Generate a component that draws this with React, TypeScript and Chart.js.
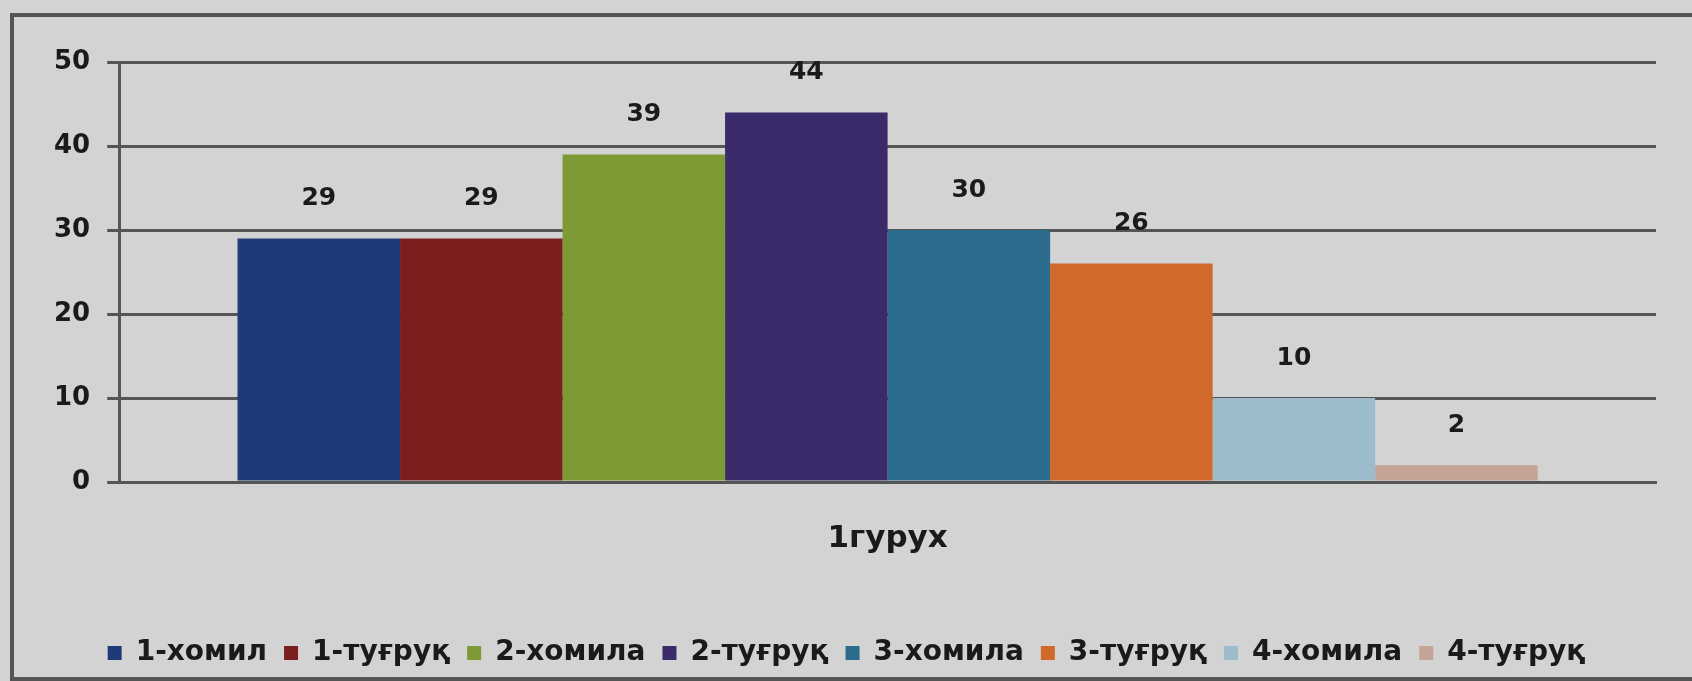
import React, { useEffect, useRef } from "react";
import { Chart, registerables } from "chart.js";

Chart.register(...registerables);

const categories = ["1гурух"];
const seriesNames = ["1-хомил", "1-туғруқ", "2-хомила", "2-туғруқ", "3-хомила", "3-туғруқ", "4-хомила", "4-туғруқ"];
const seriesValues = [29, 29, 39, 44, 30, 26, 10, 2];
const seriesColors = ["#1f3a78", "#7a1e1e", "#7e9a34", "#3b2b6b", "#2b6c8c", "#d2692c", "#9cbccc", "#c4a497"];
const yTicks = [0, 10, 20, 30, 40, 50];

const FONT = "'DejaVu Sans', sans-serif";

const valueLabels = {
  id: "valueLabels",
  afterDatasetsDraw(chart: any) {
    const ctx = chart.ctx;
    ctx.save();
    ctx.font = `bold 25px ${FONT}`;
    ctx.fillStyle = "#1a1a1a";
    ctx.textAlign = "center";
    ctx.textBaseline = "middle";
    chart.data.datasets.forEach((ds: any, i: number) => {
      const meta = chart.getDatasetMeta(i);
      meta.data.forEach((bar: any, j: number) => {
        ctx.fillText(String(ds.data[j]), bar.x, bar.y - 40);
      });
    });
    ctx.restore();
  },
};

export default function App() {
  const ref = useRef<HTMLCanvasElement>(null);
  useEffect(() => {
    document.body.style.margin = "0";
    document.body.style.background = "#d3d3d3";
    const chart = new Chart(ref.current!, {
      type: "bar",
      data: {
        labels: categories,
        datasets: seriesNames.map((name, i) => ({
          label: name,
          data: [seriesValues[i]],
          backgroundColor: seriesColors[i],
          borderWidth: 0,
          categoryPercentage: 0.846,
          barPercentage: 1,
        })),
      },
      options: {
        animation: false,
        responsive: false,
        events: [],
        layout: { padding: { left: 37, right: 36, top: 62, bottom: 4 } },
        plugins: {
          tooltip: { enabled: false },
          legend: {
            position: "bottom",
            labels: {
              font: { family: FONT, size: 28, weight: "bold" },
              color: "#1a1a1a",
              boxWidth: 14,
              boxHeight: 14,
              padding: 17,
            },
          },
        },
        scales: {
          x: {
            grid: { display: false },
            border: { color: "#555", width: 3 },
            ticks: {
              font: { family: FONT, size: 31, weight: "bold" },
              color: "#1a1a1a",
              padding: 30,
            },
            afterFit: (axis: any) => {
              axis.height = 140;
            },
          },
          y: {
            min: 0,
            max: 50,
            afterBuildTicks: (axis: any) => {
              axis.ticks = yTicks.map((v) => ({ value: v }));
            },
            grid: { color: "#555", lineWidth: 3, tickLength: 12 },
            border: { color: "#555", width: 3 },
            ticks: {
              font: { family: FONT, size: 26, weight: "bold" },
              color: "#1a1a1a",
              padding: 17,
            },
          },
        },
      },
      plugins: [valueLabels],
    });
    return () => chart.destroy();
  }, []);
  return (
    <div style={{ position: "relative", width: 1692, height: 681, background: "#d3d3d3" }}>
      <canvas ref={ref} width={1692} height={681} style={{ display: "block" }} />
      <div
        style={{
          position: "absolute",
          left: 10,
          top: 13,
          width: 1700,
          height: 660,
          border: "4px solid #555",
          pointerEvents: "none",
        }}
      />
    </div>
  );
}
